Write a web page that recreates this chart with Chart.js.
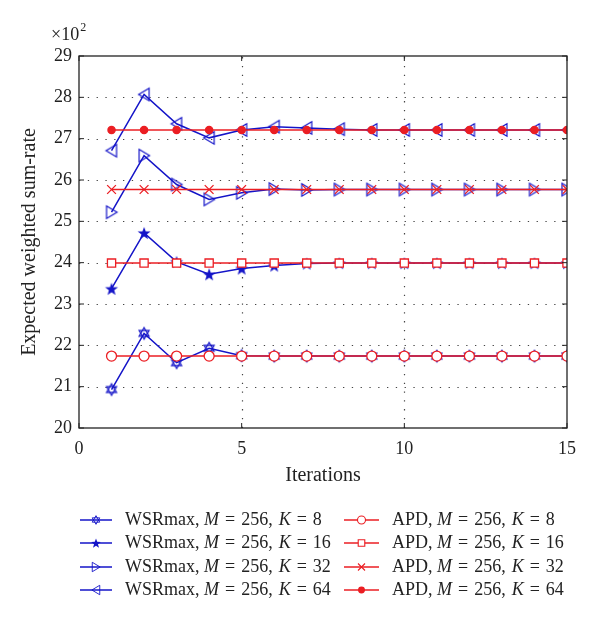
<!DOCTYPE html>
<html>
<head>
<meta charset="utf-8">
<script src="https://cdn.jsdelivr.net/npm/chart.js@4.4.0/dist/chart.umd.min.js"></script>
<style>
  html, body { margin: 0; padding: 0; background: #fff; }
  #wrap { width: 600px; height: 624px; position: relative; }
</style>
</head>
<body>
<div id="wrap"><canvas id="myChart" width="600" height="624"></canvas></div>
<script>
// iterations on the x axis
var iterations = [1, 2, 3, 4, 5, 6, 7, 8, 9, 10, 11, 12, 13, 14, 15];

// expected weighted sum-rate (x10^2)
var wsrK8  = [20.93, 22.29, 21.58, 21.93, 21.75, 21.74, 21.74, 21.74, 21.74, 21.74, 21.74, 21.74, 21.74, 21.74, 21.74];
var wsrK16 = [23.37, 24.72, 24.02, 23.72, 23.86, 23.93, 23.98, 23.99, 23.99, 23.99, 23.99, 23.99, 23.99, 23.99, 23.99];
var wsrK32 = [25.22, 26.59, 25.89, 25.53, 25.69, 25.78, 25.76, 25.77, 25.77, 25.77, 25.77, 25.77, 25.77, 25.77, 25.77];
var wsrK64 = [26.71, 28.07, 27.36, 27.02, 27.21, 27.29, 27.26, 27.23, 27.21, 27.21, 27.21, 27.21, 27.21, 27.21, 27.21];
var apdK8  = [21.74, 21.74, 21.74, 21.74, 21.74, 21.74, 21.74, 21.74, 21.74, 21.74, 21.74, 21.74, 21.74, 21.74, 21.74];
var apdK16 = [23.99, 23.99, 23.99, 23.99, 23.99, 23.99, 23.99, 23.99, 23.99, 23.99, 23.99, 23.99, 23.99, 23.99, 23.99];
var apdK32 = [25.77, 25.77, 25.77, 25.77, 25.77, 25.77, 25.77, 25.77, 25.77, 25.77, 25.77, 25.77, 25.77, 25.77, 25.77];
var apdK64 = [27.21, 27.21, 27.21, 27.21, 27.21, 27.21, 27.21, 27.21, 27.21, 27.21, 27.21, 27.21, 27.21, 27.21, 27.21];

var kValues = [8, 16, 32, 64];
var xTicks = [0, 5, 10, 15];
var yTicks = [20, 21, 22, 23, 24, 25, 26, 27, 28, 29];

var BLUE = 'rgb(20,20,200)';
var RED = 'rgb(235,30,35)';
var SERIF = '"Liberation Serif", "DejaVu Serif", serif';

// little marker images (matlab style)
function marker(kind, color, scale) {
    var c = document.createElement('canvas');
    var n = Math.ceil(16 * scale);
    c.width = n; c.height = n;
    var g = c.getContext('2d');
    g.strokeStyle = color; g.fillStyle = color; g.lineWidth = 1.2;
    g.translate(n / 2, n / 2);
    g.scale(scale, scale);
    if (kind === 'hexagram') {
        var r = 5.8;
        for (var t = 0; t < 2; t++) {
            g.beginPath();
            for (var i = 0; i < 3; i++) {
                var a = -Math.PI / 2 + t * Math.PI + i * 2 * Math.PI / 3;
                var px = r * Math.cos(a), py = r * Math.sin(a);
                if (i === 0) g.moveTo(px, py); else g.lineTo(px, py);
            }
            g.closePath(); g.stroke();
        }
    } else if (kind === 'pentagram') {
        var ro = 6.8, ri = 2.8;
        g.beginPath();
        for (var j = 0; j < 10; j++) {
            var rr = j % 2 === 0 ? ro : ri;
            var b = -Math.PI / 2 + j * Math.PI / 5;
            var qx = rr * Math.cos(b), qy = 0.7 + rr * Math.sin(b);
            if (j === 0) g.moveTo(qx, qy); else g.lineTo(qx, qy);
        }
        g.closePath(); g.fill();
    } else if (kind === 'triRight' || kind === 'triLeft') {
        var s = kind === 'triRight' ? 1 : -1;
        g.beginPath();
        g.moveTo(-5 * s, -6.3);
        g.lineTo(5.5 * s, 0);
        g.lineTo(-5 * s, 6.3);
        g.closePath(); g.stroke();
    }
    return c;
}

var wsrSeries = [wsrK8, wsrK16, wsrK32, wsrK64];
var apdSeries = [apdK8, apdK16, apdK32, apdK64];
var wsrKinds = ['hexagram', 'pentagram', 'triRight', 'triLeft'];
var apdStyles = [
    { style: 'circle', radius: 5, fill: '#fff' },
    { style: 'rect', radius: 5.8, fill: '#fff' },
    { style: 'crossRot', radius: 6.2, fill: RED },
    { style: 'circle', radius: 3.6, fill: RED }
];

var datasets = [];
for (var i = 0; i < 4; i++) {
    datasets.push({
        label: 'WSRmax, M = 256, K = ' + kValues[i],
        data: iterations.map(function (x, n) { return { x: x, y: wsrSeries[i][n] }; }),
        borderColor: BLUE, backgroundColor: BLUE, borderWidth: 1.5,
        pointStyle: marker(wsrKinds[i], BLUE, 1), pointRadius: 7, order: 2,
        legendMark: marker(wsrKinds[i], BLUE, 0.75),
        kind: 'wsr', idx: i
    });
}
for (var k = 0; k < 4; k++) {
    datasets.push({
        label: 'APD, M = 256, K = ' + kValues[k],
        data: iterations.map(function (x, n) { return { x: x, y: apdSeries[k][n] }; }),
        borderColor: RED, backgroundColor: apdStyles[k].fill, borderWidth: 1.5,
        pointStyle: apdStyles[k].style, pointRadius: apdStyles[k].radius, pointBorderWidth: 1.3,
        order: 1, kind: 'apd', idx: k
    });
}

// dotted grid under the lines
var dottedGrid = {
    id: 'dottedGrid',
    beforeDatasetsDraw: function (chart) {
        var ctx = chart.ctx, a = chart.chartArea;
        var xs = chart.scales.x, ys = chart.scales.y;
        ctx.save();
        ctx.strokeStyle = '#444'; ctx.lineWidth = 1.2;
        ctx.setLineDash([1.3, 7.5]);
        xTicks.slice(1, -1).forEach(function (t) {
            var px = Math.round(xs.getPixelForValue(t)) + 0.5;
            ctx.beginPath(); ctx.moveTo(px, a.bottom); ctx.lineTo(px, a.top); ctx.stroke();
        });
        yTicks.slice(1, -1).forEach(function (t) {
            var py = Math.round(ys.getPixelForValue(t)) + 0.5;
            ctx.beginPath(); ctx.moveTo(a.left, py); ctx.lineTo(a.right, py); ctx.stroke();
        });
        ctx.restore();
    }
};

// frame, inward ticks, titles and legend in matlab fashion
var matlabDecor = {
    id: 'matlabDecor',
    afterDraw: function (chart) {
        var ctx = chart.ctx, a = chart.chartArea;
        var xs = chart.scales.x, ys = chart.scales.y;
        ctx.save();
        ctx.strokeStyle = '#222'; ctx.lineWidth = 1.3;
        ctx.strokeRect(a.left, a.top, a.right - a.left, a.bottom - a.top);
        ctx.lineWidth = 1;
        xTicks.forEach(function (t) {
            var px = xs.getPixelForValue(t);
            ctx.beginPath(); ctx.moveTo(px, a.bottom); ctx.lineTo(px, a.bottom - 5); ctx.stroke();
            ctx.beginPath(); ctx.moveTo(px, a.top); ctx.lineTo(px, a.top + 5); ctx.stroke();
        });
        yTicks.forEach(function (t) {
            var py = ys.getPixelForValue(t);
            ctx.beginPath(); ctx.moveTo(a.left, py); ctx.lineTo(a.left + 5, py); ctx.stroke();
            ctx.beginPath(); ctx.moveTo(a.right, py); ctx.lineTo(a.right - 5, py); ctx.stroke();
        });

        ctx.fillStyle = '#222';
        ctx.font = '20px ' + SERIF;
        ctx.textAlign = 'center'; ctx.textBaseline = 'middle';
        ctx.fillText('Iterations', (a.left + a.right) / 2, 476);
        ctx.save();
        ctx.translate(30, (a.top + a.bottom) / 2);
        ctx.rotate(-Math.PI / 2);
        ctx.fillText('Expected weighted sum-rate', 0, 0);
        ctx.restore();
        // x10^2 multiplier
        ctx.textAlign = 'left';
        ctx.font = '18px ' + SERIF;
        ctx.fillText('\u00d710', 51, 35);
        var w = ctx.measureText('\u00d710').width;
        ctx.font = '12px ' + SERIF;
        ctx.fillText('2', 51 + w + 1, 28);

        // legend
        var rows = [520, 543, 567, 590];
        var cols = [
            { x0: 80, x1: 112, text: 125 },
            { x0: 344, x1: 379, text: 392 }
        ];
        var sp = '\u2004';
        chart.data.datasets.forEach(function (ds) {
            var col = cols[ds.kind === 'wsr' ? 0 : 1];
            var y = rows[ds.idx];
            ctx.strokeStyle = ds.borderColor; ctx.lineWidth = ds.borderWidth;
            ctx.beginPath(); ctx.moveTo(col.x0, y); ctx.lineTo(col.x1, y); ctx.stroke();
            var mx = (col.x0 + col.x1) / 2;
            if (ds.kind === 'apd') {
                ctx.fillStyle = ds.backgroundColor;
                ctx.lineWidth = 1.1;
                Chart.helpers.drawPoint(ctx, {
                    pointStyle: ds.pointStyle, radius: ds.pointRadius * 0.8,
                    rotation: 0, borderWidth: 1.1
                }, mx, y);
            } else {
                var m = ds.legendMark;
                ctx.drawImage(m, mx - m.width / 2, y - m.height / 2);
            }
            var parts = [
                [ds.kind === 'wsr' ? 'WSRmax, ' : 'APD, ', 'normal'],
                ['M', 'italic'], [sp + '=' + sp + '256,' + sp, 'normal'], ['K', 'italic'],
                [sp + '=' + sp + kValues[ds.idx], 'normal']
            ];
            var tx = col.text;
            ctx.fillStyle = '#222';
            ctx.textAlign = 'left'; ctx.textBaseline = 'middle';
            parts.forEach(function (p) {
                ctx.font = p[1] + ' 18px ' + SERIF;
                ctx.fillText(p[0], tx, y);
                tx += ctx.measureText(p[0]).width;
            });
        });
        ctx.restore();
    }
};

new Chart(document.getElementById('myChart').getContext('2d'), {
    type: 'line',
    data: { datasets: datasets },
    options: {
        responsive: false,
        animation: false,
        layout: { padding: { top: 56, right: 33, left: 0, bottom: 0 } },
        plugins: { legend: { display: false }, tooltip: { enabled: false } },
        scales: {
            x: {
                type: 'linear', min: 0, max: 15,
                afterFit: function (s) { s.height = 196; },
                afterBuildTicks: function (s) { s.ticks = xTicks.map(function (v) { return { value: v }; }); },
                grid: { display: false, drawTicks: false },
                border: { display: false },
                ticks: { color: '#222', font: { family: SERIF, size: 18 }, padding: 10 }
            },
            y: {
                min: 20, max: 29,
                afterFit: function (s) { s.width = 79; },
                afterBuildTicks: function (s) { s.ticks = yTicks.map(function (v) { return { value: v }; }); },
                grid: { display: false, drawTicks: false },
                border: { display: false },
                ticks: { color: '#222', font: { family: SERIF, size: 18 }, padding: 7 }
            }
        }
    },
    plugins: [dottedGrid, matlabDecor]
});
</script>
</body>
</html>
